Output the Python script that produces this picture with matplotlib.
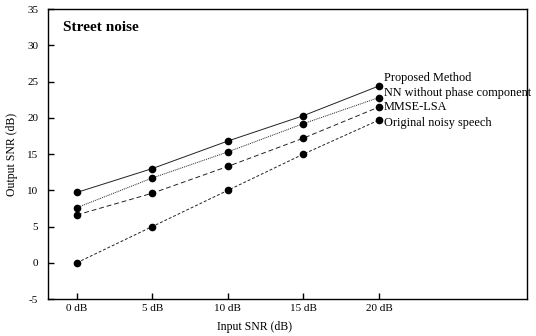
import matplotlib.pyplot as plt

plt.rcParams['font.family'] = ['Liberation Serif', 'DejaVu Serif']
plt.rcParams['axes.unicode_minus'] = False

input_snr = [0, 5, 10, 15, 20]
xtick_labels = ["0 dB", "5 dB", "10 dB", "15 dB", "20 dB"]

proposed = [9.7, 13.0, 16.8, 20.3, 24.4]
nn_no_phase = [7.6, 11.7, 15.3, 19.2, 22.8]
mmse_lsa = [6.6, 9.6, 13.3, 17.2, 21.5]
noisy = [0.0, 5.0, 10.0, 15.0, 19.7]

series = [
    ("Proposed Method", proposed, "-"),
    ("NN without phase component", nn_no_phase, (0, (1, 1))),
    ("MMSE-LSA", mmse_lsa, (0, (5, 3))),
    ("Original noisy speech", noisy, (0, (3, 2))),
]
# vertical nudge of the end labels, in points
label_dy = [6, 3.5, 0, -2]

fig = plt.figure(figsize=(5.36, 3.36), dpi=100)
ax = fig.add_axes([0.0896, 0.110, 0.894, 0.863])

for (name, vals, ls), dy in zip(series, label_dy):
    ax.plot(input_snr, vals, color="#222222", linestyle=ls, linewidth=0.7,
            marker="o", markersize=4.5, markerfacecolor="black",
            markeredgecolor="black")
    ax.annotate(name, (input_snr[-1], vals[-1]), xytext=(3.5, dy),
                textcoords="offset points", fontsize=8.8,
                ha="left", va="center")

ax.set_xlim(-1.9, 29.8)
ax.set_ylim(-5, 35)
ax.set_xticks(input_snr)
ax.set_xticklabels(xtick_labels)
ax.set_yticks(range(-5, 36, 5))
ax.tick_params(direction="in", length=4, width=1.0, labelsize=8)
ax.tick_params(axis="y", pad=7)

for sp in ax.spines.values():
    sp.set_linewidth(1.0)

ax.text(0.031, 0.935, "Street noise", transform=ax.transAxes, fontsize=11,
        fontweight="bold", ha="left", va="center")

ax.set_xlabel("Input SNR (dB)", fontsize=8.5)
ax.xaxis.set_label_coords(0.43, -0.075)
ax.set_ylabel("Output SNR (dB)", fontsize=8.5)
ax.yaxis.set_label_coords(-0.062, 0.5)

plt.savefig("out.png", dpi=100)
